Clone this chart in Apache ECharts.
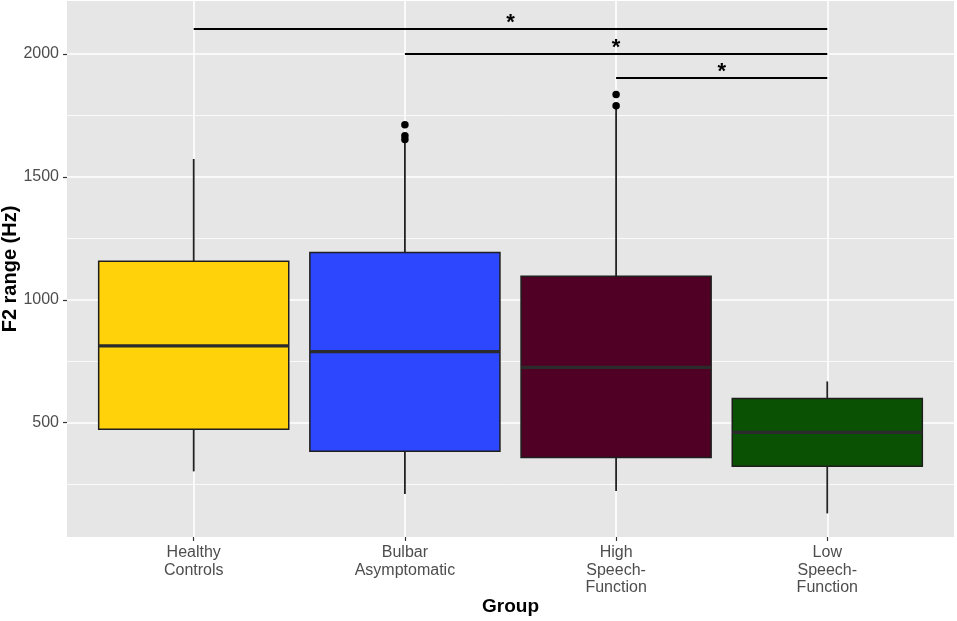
<!DOCTYPE html>
<html>
<head>
    <meta charset="UTF-8">
    <title>F2 range by group</title>
    <script src="https://cdn.jsdelivr.net/npm/echarts@6/dist/echarts.min.js"></script>
    <style>
        * { margin: 0; padding: 0; }
        body { background: #fff; }
        #chart { width: 957px; height: 621px; }
    </style>
</head>
<body>
    <div id="chart"></div>
<script>
    // groups, in axis order (1..4)
    var groups = ['Healthy\nControls', 'Bulbar\nAsymptomatic', 'High\nSpeech-\nFunction', 'Low\nSpeech-\nFunction'];
    var groupColors = ['#ffd20a', '#2c47fe', '#500024', '#0b5104'];

    // box stats
    var boxLow    = [302, 210, 222, 131];
    var boxQ1     = [473, 384, 358, 323];
    var boxMedian = [813, 789, 725, 461];
    var boxQ3     = [1157, 1193, 1096, 599];
    var boxHigh   = [1573, 1650, 1785, 668];

    // outliers: group index (1-based) and value
    var outlierGroup = [2, 2, 2, 3, 3];
    var outlierValue = [1712, 1668, 1652, 1836, 1790];

    // significance brackets
    var sigStart = [1, 2, 3];
    var sigEnd   = [4, 4, 4];
    var sigValue = [2102, 2000, 1902];
    var sigText  = ['*', '*', '*'];

    // axis ticks
    var yMajor = [500, 1000, 1500, 2000];
    var yMinor = [250, 750, 1250, 1750];
    var xTicks = [1, 2, 3, 4];

    var myChart = echarts.init(document.getElementById('chart'));

    function $each(arr, fn) {   // tiny forEach helper
        for (var n = 0; n < arr.length; n++) fn(arr[n], n);
    }

    var gridLines = [];
    $each(yMajor, function (v) { gridLines.push({ yAxis: v, lineStyle: { width: 1.6 } }); });
    $each(yMinor, function (v) { gridLines.push({ yAxis: v, lineStyle: { width: 0.8 } }); });
    $each(xTicks, function (v) { gridLines.push({ xAxis: v, lineStyle: { width: 1.6 } }); });

    var boxData = [];
    for (var i = 0; i < groups.length; i++) {
        boxData.push([i + 1, boxLow[i], boxQ1[i], boxMedian[i], boxQ3[i], boxHigh[i]]);
    }

    var outliers = [];
    for (var k = 0; k < outlierGroup.length; k++) {
        outliers.push([outlierGroup[k], outlierValue[k]]);
    }

    var sigLines = [];
    for (var s = 0; s < sigStart.length; s++) {
        sigLines.push([
            { coord: [sigStart[s], sigValue[s]], label: { formatter: sigText[s] } },
            { coord: [sigEnd[s], sigValue[s]] }
        ]);
    }

    function renderBox(params, api) {
        var x = api.value(0);
        var half = api.size([0.9, 0])[0] / 2;
        var pLow = api.coord([x, api.value(1)]);
        var pQ1 = api.coord([x, api.value(2)]);
        var pMed = api.coord([x, api.value(3)]);
        var pQ3 = api.coord([x, api.value(4)]);
        var pHigh = api.coord([x, api.value(5)]);
        var stroke = { stroke: '#222', lineWidth: 1.8 };
        return {
            type: 'group',
            children: [
                { type: 'line', shape: { x1: pQ3[0], y1: pQ3[1], x2: pHigh[0], y2: pHigh[1] }, style: stroke },
                { type: 'line', shape: { x1: pQ1[0], y1: pQ1[1], x2: pLow[0], y2: pLow[1] }, style: stroke },
                {
                    type: 'rect',
                    shape: { x: pQ3[0] - half, y: pQ3[1], width: half * 2, height: pQ1[1] - pQ3[1] },
                    style: { fill: groupColors[params.dataIndex], stroke: '#1e1e1e', lineWidth: 1.5 }
                },
                {
                    type: 'line',
                    shape: { x1: pMed[0] - half, y1: pMed[1], x2: pMed[0] + half, y2: pMed[1] },
                    style: { stroke: '#2b2b2b', lineWidth: 3.2 }
                }
            ]
        };
    }

    var option = {
        animation: false,
        grid: {
            left: 67,
            right: 3,
            top: 1,
            bottom: 84,
            outerBoundsMode: 'none',
            containLabel: false,
            show: true,
            backgroundColor: '#e6e6e6',
            borderWidth: 0
        },
        xAxis: {
            type: 'value',
            min: 0.4,
            max: 4.6,
            name: 'Group',
            nameLocation: 'middle',
            nameGap: 60,
            nameMoveOverlap: false,
            nameTextStyle: { fontFamily: 'Liberation Sans', fontSize: 19, fontWeight: 'bold', color: '#000' },
            axisLine: { show: false },
            splitLine: { show: false },
            axisTick: { show: true, customValues: xTicks, length: 4, lineStyle: { color: '#333', width: 1.2 } },
            axisLabel: {
                customValues: xTicks,
                margin: 7,
                fontFamily: 'Liberation Sans',
                fontSize: 16,
                lineHeight: 17.5,
                color: '#4d4d4d',
                formatter: function (v) { return groups[Math.round(v) - 1]; }
            }
        },
        yAxis: {
            type: 'value',
            min: 35,
            max: 2216,
            name: 'F2 range (Hz)',
            nameLocation: 'middle',
            nameGap: 47,
            nameMoveOverlap: false,
            nameTextStyle: { fontFamily: 'Liberation Sans', fontSize: 20, fontWeight: 'bold', color: '#000' },
            axisLine: { show: false },
            splitLine: { show: false },
            axisTick: { show: true, customValues: yMajor, length: 4, lineStyle: { color: '#333', width: 1.2 } },
            axisLabel: {
                customValues: yMajor,
                margin: 8,
                fontFamily: 'Liberation Sans',
                fontSize: 16,
                color: '#4d4d4d',
                formatter: function (v) { return String(v); }
            }
        },
        series: [
            {   // panel grid lines
                type: 'line',
                data: [],
                silent: true,
                z: 1,
                markLine: {
                    silent: true,
                    z: 1,
                    symbol: 'none',
                    label: { show: false },
                    lineStyle: { color: '#fff', type: 'solid' },
                    data: gridLines
                }
            },
            {
                type: 'custom',
                renderItem: renderBox,
                data: boxData,
                encode: { x: 0, y: [1, 2, 3, 4, 5] },
                z: 2
            },
            {
                type: 'scatter',
                data: outliers,
                symbolSize: 7.5,
                itemStyle: { color: '#000', opacity: 1 },
                z: 4
            },
            {   // significance brackets
                type: 'line',
                data: [],
                z: 3,
                markLine: {
                    silent: true,
                    z: 3,
                    symbol: 'none',
                    lineStyle: { color: '#000', width: 2.2, type: 'solid' },
                    label: {
                        show: true,
                        position: 'middle',
                        distance: -5,
                        fontFamily: 'Liberation Sans',
                        fontSize: 22,
                        fontWeight: 'bold',
                        color: '#000'
                    },
                    data: sigLines
                }
            }
        ]
    };

    myChart.setOption(option);
</script>
</body>
</html>
